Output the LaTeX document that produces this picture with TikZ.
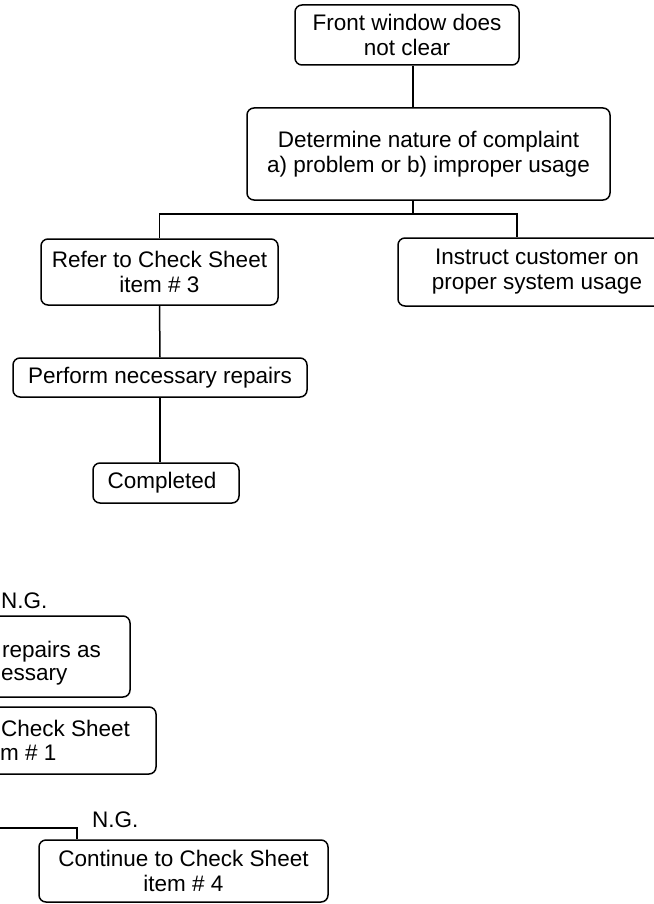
\documentclass[tikz,border=0pt]{standalone}
\usepackage{fontspec}
\setmainfont{Liberation Sans}
\usetikzlibrary{calc}

\begin{document}
\begin{tikzpicture}[
    x=1pt, y=-1pt,
    box/.style={rectangle, rounded corners=7pt, draw, line width=1.5pt, align=center, inner sep=0pt, font=\fontsize{22.5}{25}\selectfont},
    cuttext/.style={anchor=west, inner sep=0pt, font=\fontsize{22.5}{25}\selectfont},
    link/.style={line width=1.5pt}
]
\useasboundingbox (0,0) rectangle (653,904);

\node[box, minimum width=224pt, minimum height=60pt] (front) at (407,35) {Front window does\\not clear};
\node[box, minimum width=363pt, minimum height=92pt] (nature) at (428.5,154) {Determine nature of complaint\\a) problem or b) improper usage};
\node[box, minimum width=237pt, minimum height=66pt] (refer) at (159.5,272) {Refer to Check Sheet\\item \# 3};
\node[box, minimum width=278pt, minimum height=68pt] (instruct) at (537,272) {Instruct customer on\\proper system usage};
\node[box, minimum width=294pt, minimum height=39pt] (perform) at (160,377.5) {Perform necessary repairs};
\node[box, minimum width=146pt, minimum height=40pt] (done) at (166,483) {Completed\hspace{8pt}};

\coordinate (trunk) at (413,0);
\coordinate (branch) at (517,0);
\draw[link] (front.south -| trunk) -- (nature.north -| trunk);
\draw[link] (nature.south -| trunk) -- ++(0,13) coordinate (split);
\draw[link] (refer.north) |- (split) -| (instruct.north -| branch);
\draw[link] (refer.south) -- (perform.north);
\draw[link] (perform.south) -- (perform.south |- done.north);

\node[cuttext] (ngtop) at (1,601) {N.G.};
\node[box, minimum width=330pt, minimum height=81pt] (repair) at (-35,656.5) {};
\node[cuttext] (repairA) at (2,652) {repairs as};
\node[cuttext] (repairB) at (1,677) {essary};
\node[box, minimum width=356pt, minimum height=67pt] (sheet) at (-22,740.5) {};
\node[cuttext] (sheetA) at (1,728) {Check Sheet};
\node[cuttext] (sheetB) at (0,753) {m \# 1};

\node[box, minimum width=289pt, minimum height=62pt] (cont) at (183.5,871) {Continue to Check Sheet\\item \# 4};
\node[cuttext] (ngbot) at (92,820) {N.G.};
\coordinate (ngleft) at (-5,828);
\coordinate (ngdrop) at (77,828);
\draw[link] (ngleft) -- (ngdrop) -- (ngdrop |- cont.north);
\end{tikzpicture}
\end{document}
